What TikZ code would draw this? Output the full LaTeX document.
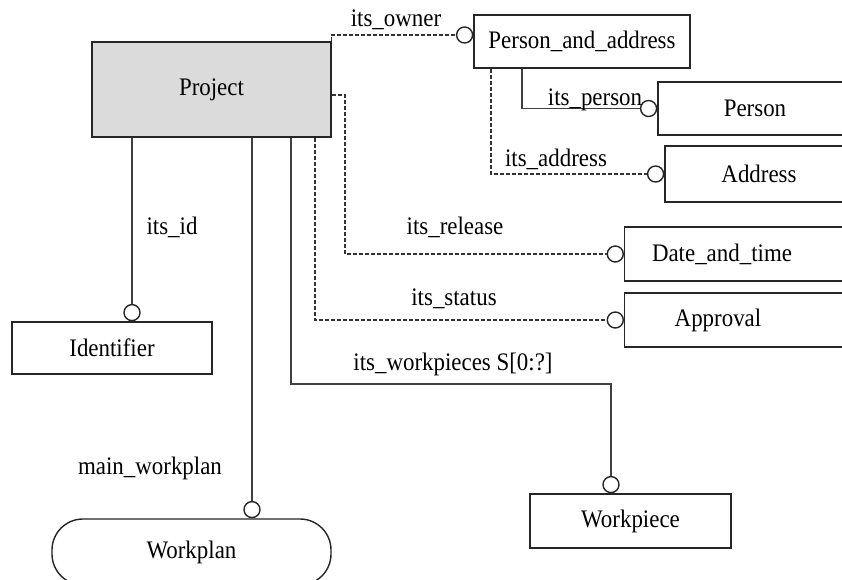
\documentclass[tikz,border=0pt]{standalone}
\usepackage{fontspec}
\setmainfont{Liberation Serif}
\newsavebox{\lblbox}
\begin{document}
\begin{tikzpicture}[x=1bp,y=-1bp,
  every node/.style={font=\fontsize{23}{27}\selectfont, inner sep=0pt, text=black,
    execute at begin node={\begin{lrbox}{\lblbox}},
    execute at end node={\end{lrbox}\scalebox{1}[1.1]{\usebox{\lblbox}}}},
  ent/.style={draw=black!85, line width=1.4bp, fill=white},
  ring/.style={circle, draw=black!85, line width=1.4bp, fill=white, minimum size=16bp},
  sline/.style={draw=black!75, line width=1.5bp},
  dline/.style={draw=black!80, line width=1.3bp, dash pattern=on 4bp off 2bp},
  lbl/.style={}
]
\clip[use as bounding box] (0,0) rectangle (842,580);
\fill[white] (0,0) rectangle (842,580);

% entity boxes
\node[ent, fill=gray!28, minimum width=239bp, minimum height=95bp] (project) at (211.5,89.5) {Project};
\node[ent, minimum width=216bp, minimum height=53bp] (pa) at (582,41.5) {Person\_and\_address};
\node[ent, minimum width=194bp, minimum height=53bp] (person) at (755,108.5) {Person};
\node[ent, minimum width=188bp, minimum height=56bp] (address) at (759,174) {Address};
\node[ent, anchor=west, minimum width=240bp, minimum height=54bp] (datetime) at (624,254) {};
\node (datetimeT) at (722,254) {Date\_and\_time};
\node[ent, anchor=west, minimum width=240bp, minimum height=54bp] (approval) at (624,320) {};
\node (approvalT) at (718,320) {Approval};
\node[ent, minimum width=200bp, minimum height=52bp] (identifier) at (112,348) {Identifier};
\node[ent, rounded corners=31bp, minimum width=279bp, minimum height=66bp] (workplan) at (191.5,552) {Workplan};
\node[ent, minimum width=201bp, minimum height=54bp] (workpiece) at (630.5,521) {Workpiece};

% relationship end circles
\node[ring, anchor=east] (cOwner) at (pa.west |- 0,35) {};
\node[ring, anchor=east] (cPerson) at (person.west) {};
\node[ring, anchor=east] (cAddress) at (address.west) {};
\node[ring, anchor=east] (cRelease) at (datetime.west) {};
\node[ring, anchor=east] (cStatus) at (approval.west) {};
\node[ring, anchor=south] (cId) at (identifier.north -| 132,0) {};
\node[ring, anchor=south] (cPlan) at (workplan.north -| 252,0) {};
\node[ring, anchor=south] (cPiece) at (workpiece.north -| 611,0) {};

% connectors
\draw[dline] (project.north east) |- (cOwner.west);
\draw[dline] (project.east |- 0,95) -| (cRelease.west -| 345,0) -- (cRelease.west);
\draw[dline] (project.south -| 315,0) |- (cStatus.west);
\draw[sline] (project.south -| cId) -- (cId.north);
\draw[sline] (project.south -| cPlan) -- (cPlan.north);
\draw[sline] (project.south -| 291,0) |- (cPiece.north |- 0,384) -- (cPiece.north);
\draw[sline] (pa.south -| 522,0) |- (cPerson.west);
\draw[dline] (pa.south -| 491,0) |- (cAddress.west);

% relationship names
\node[lbl] (lOwner) at (396,20) {its\_owner};
\node[lbl] (lPerson) at (595,100) {its\_person};
\node[lbl] (lAddress) at (556,159) {its\_address};
\node[lbl] (lRelease) at (455,227) {its\_release};
\node[lbl] (lStatus) at (454,299) {its\_status};
\node[lbl] (lId) at (172,227) {its\_id};
\node[lbl] (lPlan) at (150,468) {main\_workplan};
\node[lbl] (lPieces) at (453,364) {its\_workpieces S[0:?]};
\end{tikzpicture}
\end{document}
